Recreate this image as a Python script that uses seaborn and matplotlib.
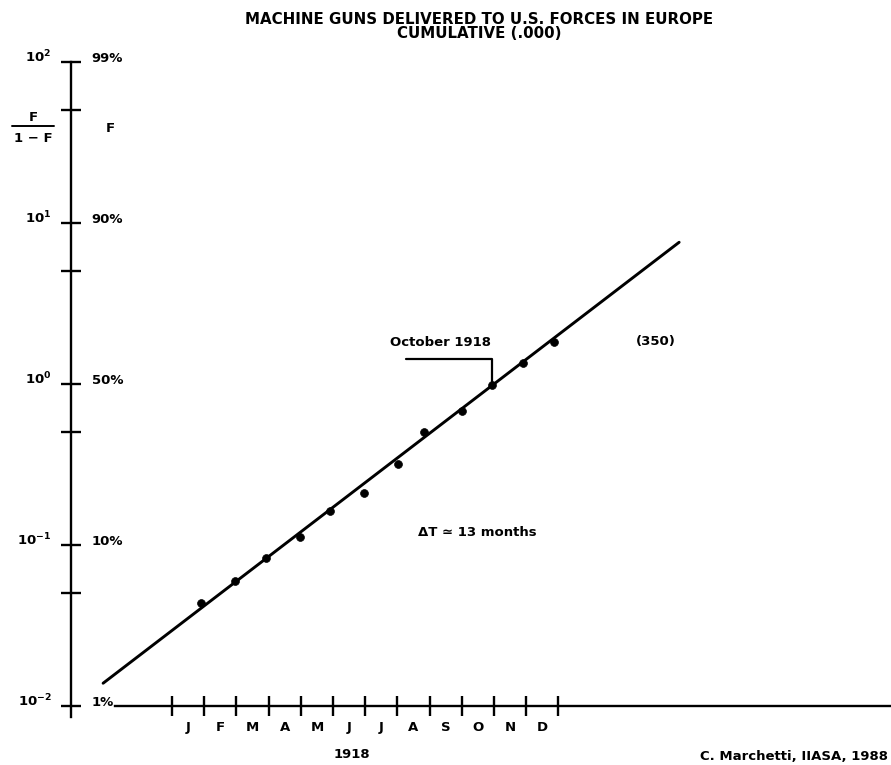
import matplotlib
matplotlib.use("Agg")
import matplotlib.pyplot as plt
import matplotlib.ticker as mticker
import seaborn as sns
import numpy as np
import pandas as pd

# ---------------- data ----------------
month_labels = ["J", "F", "M", "A", "M", "J", "J", "A", "S", "O", "N", "D"]
# time in months since 1 Jan 1918 (1.0 = end of January)
point_month = [0.90, 1.96, 2.92, 3.98, 4.91, 5.96, 7.02, 7.83, 9.01, 9.94, 10.90, 11.86]
# F/(1-F)
point_odds = [0.0437, 0.0597, 0.0830, 0.1122, 0.1626, 0.2104, 0.3184, 0.5035, 0.679, 0.986, 1.349, 1.824]

# logistic fit: log10(F/(1-F)) = slope * (t - t0)
fit_t0 = 10.0
fit_slope = 0.1531
fit_span = [-2.14, 15.75]

odds_ticks = [0.01, 0.1, 1, 10, 100]
odds_tick_labels = ["$\\mathbf{10^{-2}}$", "$\\mathbf{10^{-1}}$", "$\\mathbf{10^{0}}$",
                    "$\\mathbf{10^{1}}$", "$\\mathbf{10^{2}}$"]
pct_tick_labels = ["1%", "10%", "50%", "90%", "99%"]
odds_minor_ticks = [0.05, 0.5, 5, 50]

title_lines = ["MACHINE GUNS DELIVERED TO U.S. FORCES IN EUROPE", "CUMULATIVE (.000)"]

# ---------------- style ----------------
sns.set_style("white")
plt.rcParams["font.family"] = ["DejaVu Sans"]
plt.rcParams["font.weight"] = "bold"
plt.rcParams["mathtext.fontset"] = "dejavusans"
for key in ["text.color", "axes.edgecolor", "axes.labelcolor", "xtick.color", "ytick.color"]:
    plt.rcParams[key] = "black"

W, H = 891, 765
fig = plt.figure(figsize=(W / 100, H / 100), dpi=100)

# axes geometry in pixels (y pixel = 384 - 161*log10(odds); x pixel = 172 + 32.2*month)
ax_left_px, ax_right_px = 71, 891
ax_top_px, ax_bot_px = 50, 720
ax = fig.add_axes([ax_left_px / W, 1 - ax_bot_px / H,
                   (ax_right_px - ax_left_px) / W, (ax_bot_px - ax_top_px) / H])

def px_to_month(px):
    return (px - 172) / 32.2

def py_to_odds(py):
    return 10 ** ((384 - py) / 161)

ax.set_yscale("log")
ax.set_xlim(px_to_month(ax_left_px), px_to_month(ax_right_px))
ax.set_ylim(py_to_odds(ax_bot_px), py_to_odds(ax_top_px))

# fitted line
fit_df = pd.DataFrame({"t": fit_span})
fit_df["odds"] = 10 ** (fit_slope * (fit_df["t"] - fit_t0))
sns.lineplot(data=fit_df, x="t", y="odds", ax=ax, color="black", linewidth=2.1)

# data points
pts = pd.DataFrame({"t": point_month, "odds": point_odds})
sns.scatterplot(data=pts, x="t", y="odds", ax=ax, color="black", s=32,
                edgecolor="black", linewidth=0.5, zorder=5)

# spines
for s in ["top", "right"]:
    ax.spines[s].set_visible(False)
ax.spines["left"].set_linewidth(1.7)
ax.spines["left"].set_bounds(py_to_odds(717), 100)
ax.spines["bottom"].set_position(("data", 0.01))
ax.spines["bottom"].set_linewidth(1.7)
ax.spines["bottom"].set_bounds(px_to_month(115), px_to_month(ax_right_px))

# y ticks (odds, left)
ax.yaxis.set_major_locator(mticker.FixedLocator(odds_ticks))
ax.yaxis.set_minor_locator(mticker.FixedLocator(odds_minor_ticks))
ax.set_yticks(odds_ticks, labels=odds_tick_labels, va="baseline")
ax.yaxis.set_minor_formatter(mticker.NullFormatter())
ax.tick_params(axis="y", which="both", direction="inout", length=14, width=1.7,
               labelsize=9.5, pad=7, left=True)

# x ticks: month boundaries, labels centred in months
ax.set_xticks(np.arange(0, 13))
ax.set_xticklabels([])
ax.set_xticks(np.arange(12) + 0.5, minor=True)
ax.set_xticklabels(month_labels, minor=True, fontsize=9.5, fontweight="bold")
ax.tick_params(axis="x", which="major", direction="inout", length=14, width=1.7, bottom=True)
ax.tick_params(axis="x", which="minor", length=0, pad=11, bottom=True)
ax.set_xlabel("")
ax.set_ylabel("")

# percent labels (F) on the right side of the same axis line
ax2 = ax.twinx()
ax2.set_yscale("log")
ax2.set_ylim(ax.get_ylim())
for s in ["top", "right", "bottom", "left"]:
    ax2.spines[s].set_visible(False)
ax2.spines["right"].set_position(("axes", 0))
ax2.yaxis.set_major_locator(mticker.FixedLocator(odds_ticks))
ax2.yaxis.set_minor_locator(mticker.NullLocator())
ax2.set_yticks(odds_ticks, labels=pct_tick_labels, va="baseline")
ax2.tick_params(axis="y", length=0, pad=15, labelsize=9.5)

# axis titles
fig.text(33 / W, 1 - 121 / H, "F", ha="center", va="baseline", fontsize=9.5, fontweight="bold")
fig.add_artist(plt.Line2D([12 / W, 54 / W], [1 - 126 / H, 1 - 126 / H], color="black", linewidth=1.4))
fig.text(33 / W, 1 - 142 / H, "1 \u2212 F", ha="center", va="baseline", fontsize=9.5, fontweight="bold")
fig.text(110 / W, 1 - 132 / H, "F", ha="center", va="baseline", fontsize=9.5, fontweight="bold")

# title
fig.text(479 / W, 1 - 19 / H, title_lines[0], ha="center", va="center", fontsize=10.8, fontweight="bold")
fig.text(479 / W, 1 - 33 / H, title_lines[1], ha="center", va="center", fontsize=10.8, fontweight="bold")

# October annotation
oct_idx = 9
ax.annotate("", xy=(point_month[oct_idx], point_odds[oct_idx]),
            xytext=(px_to_month(406), py_to_odds(359)),
            arrowprops=dict(arrowstyle="-", color="black", linewidth=1.6,
                            connectionstyle="angle,angleA=0,angleB=90,rad=0",
                            shrinkA=0, shrinkB=0))
fig.text(440 / W, 1 - 342 / H, "October 1918", ha="center", va="center", fontsize=9.5, fontweight="bold")
fig.text(656 / W, 1 - 341 / H, "(350)", ha="center", va="center", fontsize=9.5, fontweight="bold")
fig.text(477 / W, 1 - 533 / H, "\u0394T \u2243 13 months", ha="center", va="center", fontsize=9.5, fontweight="bold")

# bottom labels
fig.text(352 / W, 1 - 755 / H, "1918", ha="center", va="center", fontsize=9.5, fontweight="bold")
fig.text(888 / W, 1 - 757 / H, "C. Marchetti, IIASA, 1988", ha="right", va="center", fontsize=9.5, fontweight="bold")

fig.savefig("out.png", dpi=100, facecolor="white")
